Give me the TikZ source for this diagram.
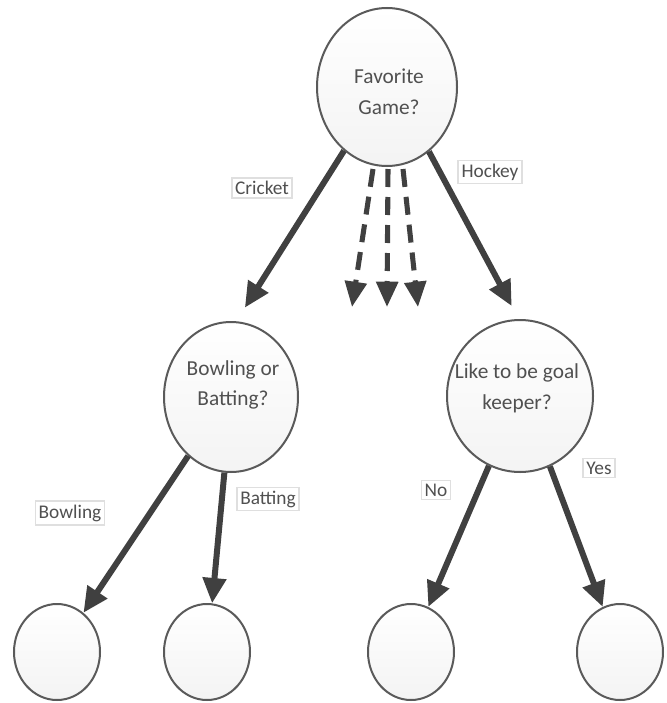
\documentclass[tikz,border=0pt]{standalone}
\usepackage{fontspec}
\setmainfont{Carlito}
\usetikzlibrary{arrows.meta,calc,shapes.geometric}
\definecolor{edgecol}{HTML}{404040}
\definecolor{txt}{HTML}{505050}
\definecolor{rim}{HTML}{5A5A5A}
\begin{document}
\begin{tikzpicture}[x=0.75pt,y=-0.75pt,
  bub/.style={draw=rim, line width=1.5pt, ellipse, inner sep=0pt, top color=white, bottom color=gray!9},
  qtext/.style={text=txt, font=\fontsize{16}{23}\selectfont, align=center},
  lab/.style={draw=gray!25, line width=1.2pt, fill=white, text=txt, font=\fontsize{14.5}{17}\selectfont, inner sep=2.5pt},
  arr/.style={draw=edgecol, line width=4.5pt, -{Triangle[length=19pt,width=17pt]}},
  darr/.style={draw=edgecol, line width=3.8pt, dash pattern=on 13.5pt off 7.5pt, -{Triangle[length=19pt,width=16pt]}}]
\useasboundingbox (0,0) rectangle (667,703);
% nodes
\node[bub, minimum width=105pt, minimum height=118.5pt] (root) at (387,87) {};
\node[bub, minimum width=100.5pt, minimum height=112.5pt] (bb) at (231,397) {};
\node[bub, minimum width=109.5pt, minimum height=114pt] (gk) at (520,396) {};
\node[bub, minimum width=64.5pt, minimum height=72pt] (l1) at (57,652) {};
\node[bub, minimum width=64.5pt, minimum height=72pt] (l2) at (207,652) {};
\node[bub, minimum width=64.5pt, minimum height=72pt] (l3) at (411,652) {};
\node[bub, minimum width=64.5pt, minimum height=72pt] (l4) at (620,652) {};
% texts
\node[qtext] (rootT) at (389,92) {Favorite\\Game?};
\node[qtext] (bbT) at (233,385) {Bowling or\\Batting?};
\node[qtext] (gkT) at (517,388) {Like to be goal\\keeper?};
% connectors
\draw[arr, shorten >=12pt] (root.236) -- (bb.86);
\draw[arr, shorten >=11pt] (root.303) -- (gk.91);
\coordinate (d1) at (352,307);
\coordinate (d2) at (387,307);
\coordinate (d3) at (418,307);
\draw[darr] ($(root.south)+(-14,2)$) -- (d1);
\draw[darr] ($(root.south)+(1,2)$) -- (d2);
\draw[darr] ($(root.south)+(16,2)$) -- (d3);
\draw[arr] (bb.234) -- (l1.56);
\draw[arr] (bb.265) -- (l2.84);
\draw[arr] (gk.246) -- (l3.69);
\draw[arr] (gk.293) -- (l4.111);
% labels
\node[lab] (lc) at (262,188) {Cricket};
\node[lab] (lh) at (490,172) {Hockey};
\node[lab] (lbw) at (70,513) {Bowling};
\node[lab] (lbt) at (268,499) {Batting};
\node[lab] (ln) at (436,490) {No};
\node[lab] (ly) at (599,468) {Yes};
\end{tikzpicture}
\end{document}
